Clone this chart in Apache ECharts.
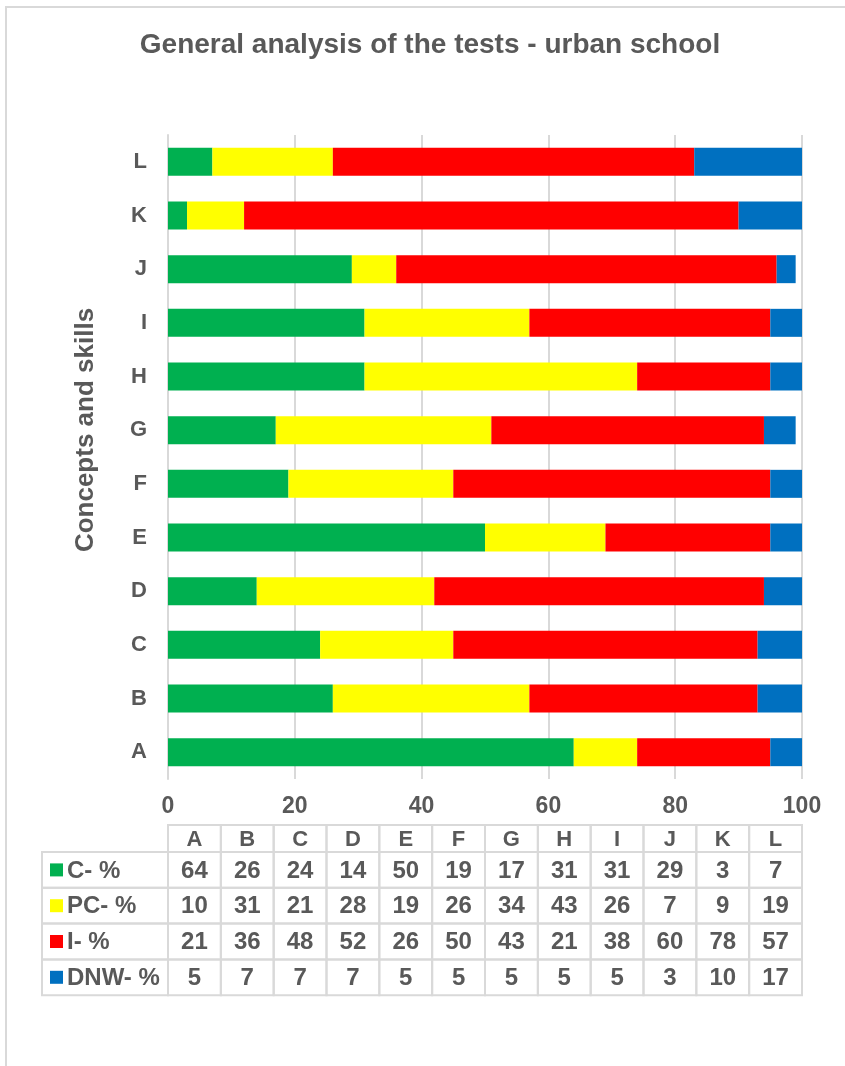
<!DOCTYPE html>
<html>
<head>
<meta charset="utf-8">
<script src="https://cdn.jsdelivr.net/npm/echarts@6/dist/echarts.min.js"></script>
<style>
  * { margin: 0; padding: 0; }
  body { background: #fff; }
  #chart { width: 845px; height: 1066px; }
</style>
</head>
<body>
<div id="chart"></div>
<script>
var categories = ['A', 'B', 'C', 'D', 'E', 'F', 'G', 'H', 'I', 'J', 'K', 'L'];
var seriesNames = ['C- %', 'PC- %', 'I- %', 'DNW- %'];
var cValues = [64, 26, 24, 14, 50, 19, 17, 31, 31, 29, 3, 7];
var pcValues = [10, 31, 21, 28, 19, 26, 34, 43, 26, 7, 9, 19];
var iValues = [21, 36, 48, 52, 26, 50, 43, 21, 38, 60, 78, 57];
var dnwValues = [5, 7, 7, 7, 5, 5, 5, 5, 5, 3, 10, 17];
var xTicks = [0, 20, 40, 60, 80, 100];

var colors = ['#00B050', '#FFFF00', '#FF0000', '#0070C0'];
var allValues = [cValues, pcValues, iValues, dnwValues];
var textColor = '#595959';
var lineColor = '#d9d9d9';
var fontFamily = '"Liberation Sans", Arial, sans-serif';

// plot area
var plotLeft = 168, plotRight = 802, plotTop = 135, plotBottom = 779;
var W = 845, H = 1066;

var chart = echarts.init(document.getElementById('chart'));

// data table under the axis
var colW = (plotRight - plotLeft) / categories.length;
var headTop = 825, headH = 27, rowH = 35.8, keyLeft = 42;
var graphics = [];

graphics.push({
  type: 'rect', silent: true,
  shape: { x: 6, y: 7, width: W + 10, height: H + 10 },
  style: { fill: 'none', stroke: lineColor, lineWidth: 2 }
});
graphics.push({
  type: 'text',
  style: {
    text: 'General analysis of the tests - urban school',
    x: 430, y: 45, textAlign: 'center', textVerticalAlign: 'middle',
    font: 'bold 28px ' + fontFamily, fill: textColor
  }
});
graphics.push({
  type: 'text',
  rotation: Math.PI / 2,
  x: 86, y: 430,
  style: {
    text: 'Concepts and skills',
    x: 0, y: 0, textAlign: 'center', textVerticalAlign: 'middle',
    font: 'bold 26px ' + fontFamily, fill: textColor
  }
});

function cell(x, y, w, h) {
  graphics.push({
    type: 'rect', silent: true,
    shape: { x: x, y: y, width: w, height: h },
    style: { fill: 'none', stroke: lineColor, lineWidth: 2 }
  });
}
function label(t, x, y, align, size) {
  graphics.push({
    type: 'text',
    style: {
      text: t, x: x, y: y, textAlign: align || 'center', textVerticalAlign: 'middle',
      font: 'bold ' + (size || 24) + 'px ' + fontFamily, fill: textColor
    }
  });
}

categories.forEach(function (c, i) {
  var x = plotLeft + i * colW;
  cell(x, headTop, colW, headH);
  label(c, x + colW / 2, headTop + headH / 2 + 1, 'center', 22);
});
seriesNames.forEach(function (name, r) {
  var y = headTop + headH + r * rowH;
  cell(keyLeft, y, plotLeft - keyLeft, rowH);
  graphics.push({
    type: 'rect',
    shape: { x: 50, y: y + rowH / 2 - 6.5, width: 13, height: 13 },
    style: { fill: colors[r] }
  });
  label(name, 67, y + rowH / 2 + 1, 'left', 24);
  allValues[r].forEach(function (v, i) {
    var x = plotLeft + i * colW;
    cell(x, y, colW, rowH);
    label(String(v), x + colW / 2, y + rowH / 2 + 1, 'center', 24);
  });
});

var series = seriesNames.map(function (name, i) {
  return {
    name: name,
    type: 'bar',
    stack: 'total',
    barWidth: 28,
    itemStyle: { color: colors[i] },
    data: allValues[i]
  };
});

chart.setOption({
  animation: false,
  grid: {
    left: plotLeft, right: W - plotRight, top: plotTop, bottom: H - plotBottom,
    containLabel: false
  },
  xAxis: {
    type: 'value',
    min: xTicks[0], max: xTicks[xTicks.length - 1], interval: 20,
    axisLine: { show: false },
    axisTick: { show: false },
    splitLine: { show: true, lineStyle: { color: lineColor, width: 2 } },
    axisLabel: {
      color: textColor, fontWeight: 'bold', fontSize: 23, fontFamily: fontFamily, margin: 16
    }
  },
  yAxis: {
    type: 'category',
    data: categories,
    axisLine: { show: true, lineStyle: { color: lineColor, width: 2 } },
    axisTick: { show: false },
    axisLabel: {
      color: textColor, fontWeight: 'bold', fontSize: 22, fontFamily: fontFamily, margin: 21
    }
  },
  graphic: graphics,
  series: series
});
</script>
</body>
</html>
